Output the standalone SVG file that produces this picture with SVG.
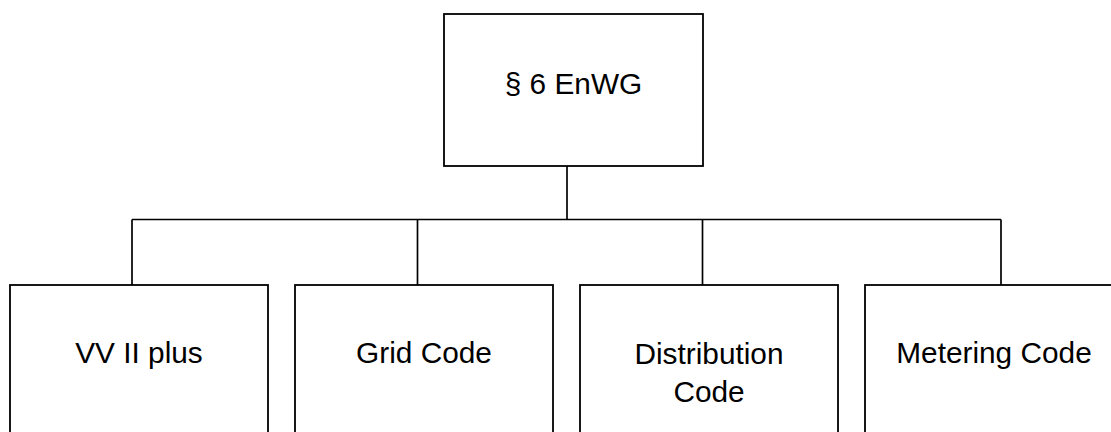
<svg xmlns="http://www.w3.org/2000/svg" width="1111" height="432" viewBox="0 0 1111 432">
<style>
.box{fill:#fff;stroke:#000;stroke-width:1.8}
.lbl{font-family:"Liberation Sans",Arial,sans-serif;font-size:29.8px;fill:#000;text-anchor:middle}
.con{fill:none;stroke:#000;stroke-width:1.7}
</style>
<rect width="1111" height="432" fill="#fff"/>
<g id="connectors">
<line class="con" x1="567" y1="166" x2="567" y2="219.5"/>
<line class="con" x1="132" y1="219.5" x2="1001" y2="219.5"/>
<line class="con" x1="132" y1="219.5" x2="132" y2="285"/>
<line class="con" x1="417.5" y1="219.5" x2="417.5" y2="285"/>
<line class="con" x1="702.5" y1="219.5" x2="702.5" y2="285"/>
<line class="con" x1="1001" y1="219.5" x2="1001" y2="285"/>
</g>
<g id="node-enwg">
<rect class="box" x="444" y="14" width="259" height="152"/>
<text class="lbl" x="573.5" y="94">§ 6 EnWG</text>
</g>
<g id="node-vv">
<rect class="box" x="10" y="285" width="258" height="160"/>
<text class="lbl" x="139" y="363">VV II plus</text>
</g>
<g id="node-grid">
<rect class="box" x="295" y="285" width="258" height="160"/>
<text class="lbl" x="424" y="363">Grid Code</text>
</g>
<g id="node-distribution">
<rect class="box" x="580" y="285" width="258" height="160"/>
<text class="lbl" x="709" y="364">Distribution</text>
<text class="lbl" x="709" y="402">Code</text>
</g>
<g id="node-metering">
<rect class="box" x="865" y="285" width="258" height="160"/>
<text class="lbl" x="994" y="363">Metering Code</text>
</g>
</svg>
